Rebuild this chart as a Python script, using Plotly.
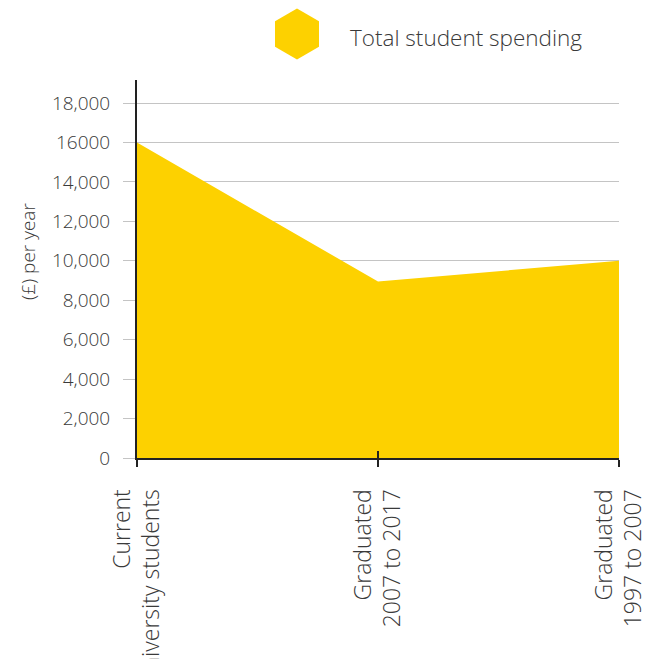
import plotly.graph_objects as go

categories = ["Current<br>university students", "Graduated<br>2007 to 2017", "Graduated<br>1997 to 2007"]
spending = [16000, 8950, 10000]
series_name = "Total student spending"
y_tick_values = [0, 2000, 4000, 6000, 8000, 10000, 12000, 14000, 16000, 18000]
y_tick_labels = ["0", "2,000", "4,000", "6,000", "8,000", "10,000", "12,000", "14,000", "16000", "18,000"]
y_title = "(£) per year"

YELLOW = "#FDD100"
TEXT = "#3a3a3a"
FONT = "'Open Sans', Lato, sans-serif"
W = 300

# figure sits inside the page's 8px body margin
FIG_W, FIG_H = 645, 651
ML, MR, MT, MB = 129, 34, 72, 201
PW, PH = FIG_W - ML - MR, FIG_H - MT - MB

def px(xp):   # page pixel x -> paper x
    return (xp - 8 - ML) / PW

def py(yp):   # page pixel y -> paper y
    return (FIG_H - MB - (yp - 8)) / PH

x_idx = list(range(len(categories)))

fig = go.Figure()
fig.add_trace(go.Scatter(
    x=x_idx, y=spending, mode="lines", fill="tozeroy",
    fillcolor=YELLOW, line=dict(width=0, color=YELLOW),
    name=series_name, showlegend=False, hoverinfo="skip",
))
# invisible trace to activate overlay x axis (inside ticks)
fig.add_trace(go.Scatter(x=x_idx, y=spending, xaxis="x2", mode="lines",
                         line=dict(width=0), showlegend=False, hoverinfo="skip", opacity=0))

fig.update_layout(
    width=FIG_W, height=FIG_H,
    margin=dict(l=ML, r=MR, t=MT, b=MB),
    paper_bgcolor="white", plot_bgcolor="white",
    font=dict(family=FONT, color=TEXT, weight=W),
    showlegend=False,
    xaxis=dict(
        range=[0, len(categories) - 1], tickvals=x_idx, ticktext=categories,
        tickangle=-90, tickfont=dict(size=23, color=TEXT, family=FONT, weight=W),
        showgrid=False, zeroline=False, automargin=False,
        showline=True, linecolor="#222222", linewidth=2,
        ticks="outside", ticklen=7, tickwidth=2, tickcolor="#222222",
        ticklabelstandoff=13,
    ),
    xaxis2=dict(
        overlaying="x", anchor="y", side="bottom", automargin=False,
        range=[0, len(categories) - 1], tickvals=x_idx, showticklabels=False,
        showgrid=False, zeroline=False, showline=False,
        ticks="inside", ticklen=7, tickwidth=2, tickcolor="#222222",
    ),
    yaxis=dict(
        range=[0, 19170], tickvals=y_tick_values, ticktext=y_tick_labels,
        tickfont=dict(size=19, color=TEXT, family=FONT, weight=W),
        showgrid=True, gridcolor="#c4c4c4", gridwidth=1.3,
        zeroline=False, automargin=False,
        showline=True, linecolor="#222222", linewidth=2,
        ticks="outside", ticklen=12, tickwidth=1.3, tickcolor="#c4c4c4",
        ticklabelstandoff=9,
    ),
)

# y axis title
fig.add_annotation(
    text=y_title, xref="paper", yref="paper", x=px(28), y=py(252),
    xanchor="center", yanchor="middle", textangle=-90, showarrow=False,
    font=dict(size=19, color=TEXT, family=FONT, weight=W),
)

# legend: hexagon glyph + label
fig.add_shape(
    type="path", xref="paper", yref="paper",
    xsizemode="pixel", ysizemode="pixel",
    xanchor=px(297), yanchor=py(34),
    path="M0,25.5 L22,12.75 L22,-12.75 L0,-25.5 L-22,-12.75 L-22,12.75 Z",
    fillcolor=YELLOW, line=dict(width=0), layer="above",
)
fig.add_annotation(
    text=series_name, xref="paper", yref="paper",
    x=px(348), y=py(37),
    xanchor="left", yanchor="middle", showarrow=False,
    font=dict(size=22.5, color=TEXT, family=FONT, weight=W),
)

fig.write_html("out.html")
